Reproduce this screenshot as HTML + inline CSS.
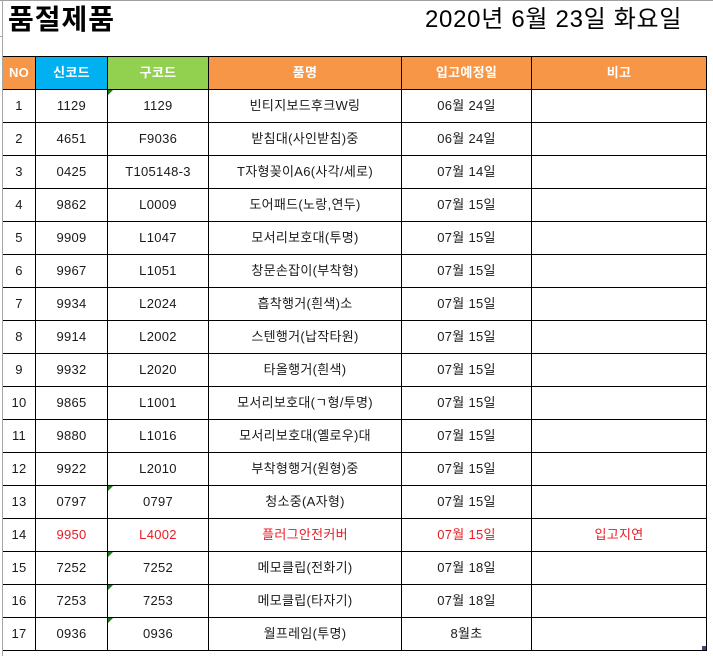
<!DOCTYPE html>
<html>
<head>
<meta charset="utf-8">
<style>
  html,body{margin:0;padding:0;}
  body{width:713px;height:656px;position:relative;overflow:hidden;background:#fff;
    font-family:"Liberation Sans","Noto Sans CJK KR","NanumGothic",sans-serif;color:#1a1a1a;}
  .abs{position:absolute;}
  .hl{position:absolute;left:3px;width:704px;height:1px;background:#000;}
  .vl{position:absolute;top:56px;height:595px;width:1px;background:#000;}
  .row{position:absolute;left:0;width:713px;height:33px;}
  .row div{position:absolute;top:0;height:33px;line-height:33px;text-align:center;font-size:13px;white-space:nowrap;letter-spacing:0.3px;}
  .c1{left:3px;width:32px;}
  .c2{left:36px;width:71px;}
  .c3{left:108px;width:100px;}
  .c4{left:209px;width:192px;}
  .c5{left:402px;width:129px;}
  .c6{left:532px;width:174px;}
  .hdr div{color:#fff;font-weight:bold;}
  .red div{color:#e81c24;}
  .mk{position:absolute;left:108px;width:0;height:0;border-top:5px solid #1f7a1f;border-right:5px solid transparent;}
</style>
</head>
<body>
<!-- grey sheet lines -->
<div class="abs" style="left:0;top:0;width:713px;height:1px;background:#a0a0a0;"></div>
<div class="abs" style="left:2px;top:0;width:1px;height:656px;background:#a6a6a6;"></div>
<div class="abs" style="left:0;top:36px;width:2px;height:1px;background:#a6a6a6;"></div>

<!-- title -->
<div class="abs" style="left:8px;top:6px;font-size:28px;line-height:28px;font-weight:bold;color:#000;white-space:nowrap;letter-spacing:1px;">품절제품</div>
<div class="abs" style="left:425px;top:8px;font-size:24px;line-height:24px;color:#000;white-space:nowrap;letter-spacing:0.7px;">2020년 6월 23일 화요일</div>

<!-- header fills -->
<div class="abs" style="left:3px;top:57px;width:32px;height:32px;background:#f79646;"></div>
<div class="abs" style="left:36px;top:57px;width:71px;height:32px;background:#00b0f0;"></div>
<div class="abs" style="left:108px;top:57px;width:100px;height:32px;background:#92d050;"></div>
<div class="abs" style="left:209px;top:57px;width:192px;height:32px;background:#f79646;"></div>
<div class="abs" style="left:402px;top:57px;width:129px;height:32px;background:#f79646;"></div>
<div class="abs" style="left:532px;top:57px;width:174px;height:32px;background:#f79646;"></div>

<div class="row hdr" style="top:56px;">
  <div class="c1">NO</div><div class="c2">신코드</div><div class="c3">구코드</div><div class="c4">품명</div><div class="c5">입고예정일</div><div class="c6">비고</div>
</div>

<div class="row" style="top:89px;"><div class="c1">1</div><div class="c2">1129</div><div class="c3">1129</div><div class="c4">빈티지보드후크W링</div><div class="c5">06월 24일</div><div class="c6"></div></div>
<div class="row" style="top:122px;"><div class="c1">2</div><div class="c2">4651</div><div class="c3">F9036</div><div class="c4">받침대(사인받침)중</div><div class="c5">06월 24일</div><div class="c6"></div></div>
<div class="row" style="top:155px;"><div class="c1">3</div><div class="c2">0425</div><div class="c3">T105148-3</div><div class="c4">T자형꽂이A6(사각/세로)</div><div class="c5">07월 14일</div><div class="c6"></div></div>
<div class="row" style="top:188px;"><div class="c1">4</div><div class="c2">9862</div><div class="c3">L0009</div><div class="c4">도어패드(노랑,연두)</div><div class="c5">07월 15일</div><div class="c6"></div></div>
<div class="row" style="top:221px;"><div class="c1">5</div><div class="c2">9909</div><div class="c3">L1047</div><div class="c4">모서리보호대(투명)</div><div class="c5">07월 15일</div><div class="c6"></div></div>
<div class="row" style="top:254px;"><div class="c1">6</div><div class="c2">9967</div><div class="c3">L1051</div><div class="c4">창문손잡이(부착형)</div><div class="c5">07월 15일</div><div class="c6"></div></div>
<div class="row" style="top:287px;"><div class="c1">7</div><div class="c2">9934</div><div class="c3">L2024</div><div class="c4">흡착행거(흰색)소</div><div class="c5">07월 15일</div><div class="c6"></div></div>
<div class="row" style="top:320px;"><div class="c1">8</div><div class="c2">9914</div><div class="c3">L2002</div><div class="c4">스텐행거(납작타원)</div><div class="c5">07월 15일</div><div class="c6"></div></div>
<div class="row" style="top:353px;"><div class="c1">9</div><div class="c2">9932</div><div class="c3">L2020</div><div class="c4">타올행거(흰색)</div><div class="c5">07월 15일</div><div class="c6"></div></div>
<div class="row" style="top:386px;"><div class="c1">10</div><div class="c2">9865</div><div class="c3">L1001</div><div class="c4">모서리보호대(ㄱ형/투명)</div><div class="c5">07월 15일</div><div class="c6"></div></div>
<div class="row" style="top:419px;"><div class="c1">11</div><div class="c2">9880</div><div class="c3">L1016</div><div class="c4">모서리보호대(옐로우)대</div><div class="c5">07월 15일</div><div class="c6"></div></div>
<div class="row" style="top:452px;"><div class="c1">12</div><div class="c2">9922</div><div class="c3">L2010</div><div class="c4">부착형행거(원형)중</div><div class="c5">07월 15일</div><div class="c6"></div></div>
<div class="row" style="top:485px;"><div class="c1">13</div><div class="c2">0797</div><div class="c3">0797</div><div class="c4">청소중(A자형)</div><div class="c5">07월 15일</div><div class="c6"></div></div>
<div class="row red" style="top:518px;"><div class="c1" style="color:#1a1a1a;">14</div><div class="c2">9950</div><div class="c3">L4002</div><div class="c4">플러그안전커버</div><div class="c5">07월 15일</div><div class="c6">입고지연</div></div>
<div class="row" style="top:551px;"><div class="c1">15</div><div class="c2">7252</div><div class="c3">7252</div><div class="c4">메모클립(전화기)</div><div class="c5">07월 18일</div><div class="c6"></div></div>
<div class="row" style="top:584px;"><div class="c1">16</div><div class="c2">7253</div><div class="c3">7253</div><div class="c4">메모클립(타자기)</div><div class="c5">07월 18일</div><div class="c6"></div></div>
<div class="row" style="top:617px;"><div class="c1">17</div><div class="c2">0936</div><div class="c3">0936</div><div class="c4">월프레임(투명)</div><div class="c5">8월초</div><div class="c6"></div></div>

<!-- horizontal lines -->
<div class="hl" style="top:56px;"></div>
<div class="hl" style="top:89px;"></div>
<div class="hl" style="top:122px;"></div>
<div class="hl" style="top:155px;"></div>
<div class="hl" style="top:188px;"></div>
<div class="hl" style="top:221px;"></div>
<div class="hl" style="top:254px;"></div>
<div class="hl" style="top:287px;"></div>
<div class="hl" style="top:320px;"></div>
<div class="hl" style="top:353px;"></div>
<div class="hl" style="top:386px;"></div>
<div class="hl" style="top:419px;"></div>
<div class="hl" style="top:452px;"></div>
<div class="hl" style="top:485px;"></div>
<div class="hl" style="top:518px;"></div>
<div class="hl" style="top:551px;"></div>
<div class="hl" style="top:584px;"></div>
<div class="hl" style="top:617px;"></div>
<div class="hl" style="top:650px;"></div>

<!-- vertical lines -->
<div class="vl" style="left:35px;"></div>
<div class="vl" style="left:107px;"></div>
<div class="vl" style="left:208px;"></div>
<div class="vl" style="left:401px;"></div>
<div class="vl" style="left:531px;"></div>
<div class="vl" style="left:706px;"></div>

<!-- green error markers -->
<div class="mk" style="top:90px;"></div>
<div class="mk" style="top:486px;"></div>
<div class="mk" style="top:552px;"></div>
<div class="mk" style="top:585px;"></div>
<div class="mk" style="top:618px;"></div>

<!-- selection handle -->
<div class="abs" style="left:702px;top:646px;width:4px;height:4px;background:#3a4a80;"></div>
</body>
</html>
